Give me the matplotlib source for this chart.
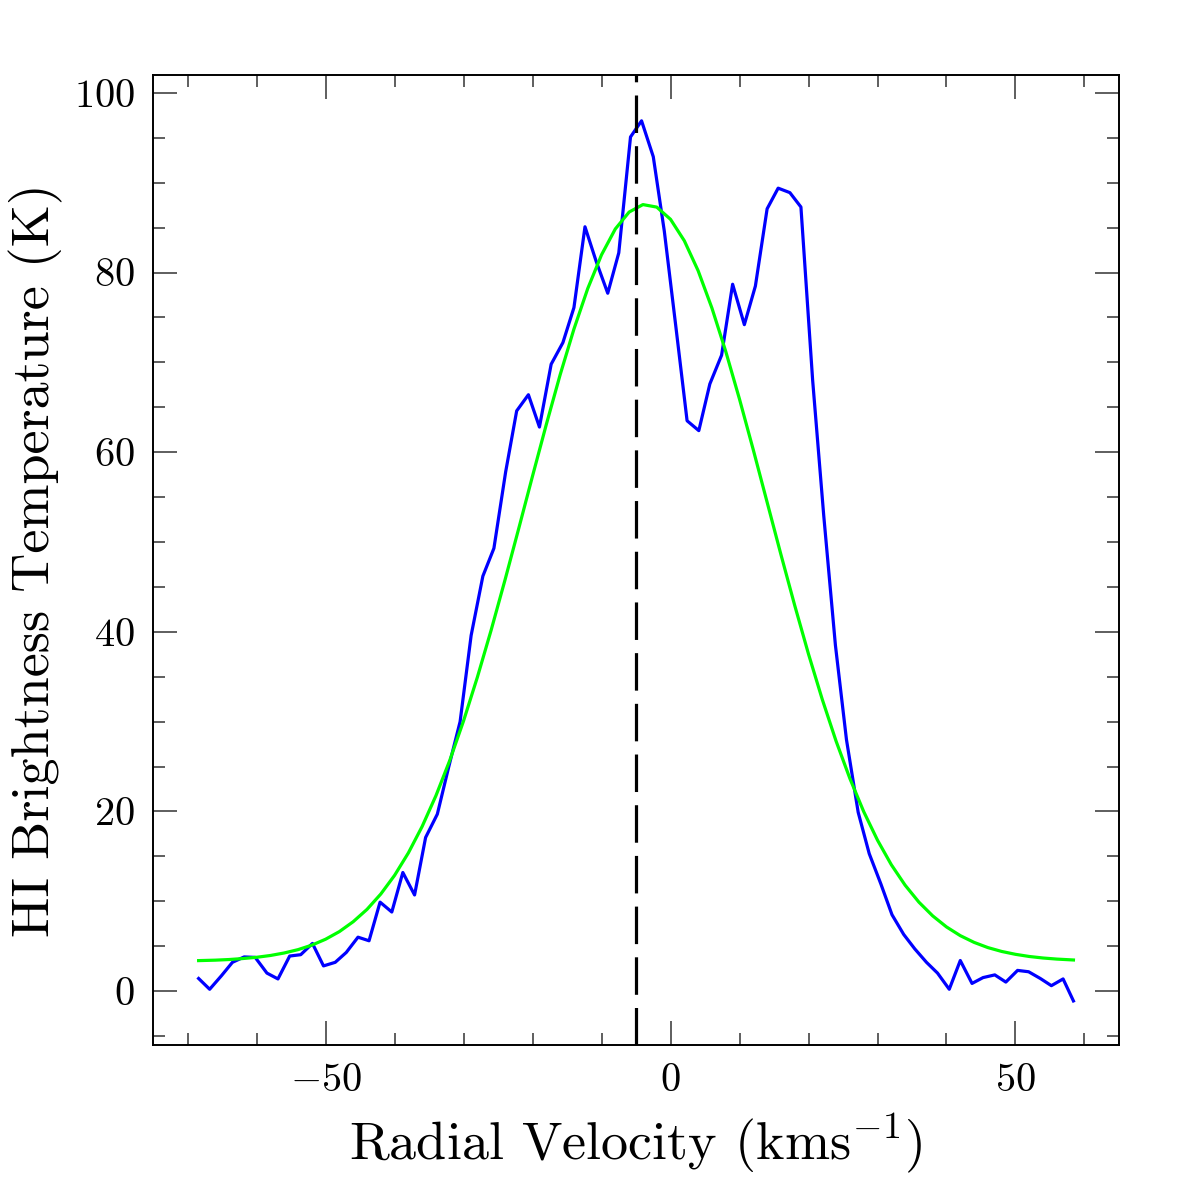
import numpy as np
import matplotlib
matplotlib.use("Agg")
import matplotlib.pyplot as plt
from matplotlib.ticker import MultipleLocator

# HI spectrum (channel velocity in km/s, brightness temperature in K)
velocity = [-68.4, -66.8, -65.1, -63.5, -61.8, -60.2, -58.5, -56.9, -55.2, -53.6,
            -51.9, -50.3, -48.6, -47.0, -45.3, -43.7, -42.1, -40.4, -38.8, -37.1,
            -35.5, -33.8, -32.2, -30.5, -28.9, -27.2, -25.6, -23.9, -22.3, -20.6,
            -19.0, -17.3, -15.6, -14.0, -12.4, -10.8, -9.1, -7.5, -5.8, -4.2,
            -2.5, -0.9, 0.8, 2.4, 4.1, 5.7, 7.4, 9.0, 10.7, 12.3,
            14.0, 15.6, 17.3, 18.9, 20.6, 22.2, 23.9, 25.5, 27.2, 28.8,
            30.5, 32.1, 33.8, 35.4, 37.1, 38.7, 40.4, 42.0, 43.7, 45.3,
            47.0, 48.6, 50.3, 51.9, 53.6, 55.2, 56.9, 58.4]
temperature = [1.4, 0.2, 1.7, 3.2, 3.8, 3.75, 2.0, 1.35, 3.9, 4.05,
               5.3, 2.8, 3.2, 4.3, 6.0, 5.6, 9.9, 8.8, 13.2, 10.7,
               17.1, 19.7, 24.8, 30.0, 39.6, 46.2, 49.3, 57.8, 64.6, 66.4,
               62.8, 69.8, 72.2, 76.1, 85.1, 81.3, 77.7, 82.2, 95.1, 96.9,
               92.9, 84.6, 73.8, 63.5, 62.4, 67.6, 70.8, 78.7, 74.2, 78.5,
               87.1, 89.4, 88.9, 87.3, 68.0, 53.0, 38.5, 28.0, 19.9, 15.3,
               11.9, 8.5, 6.3, 4.7, 3.2, 2.0, 0.2, 3.4, 0.85, 1.5,
               1.8, 1.0, 2.3, 2.15, 1.4, 0.6, 1.35, -1.1]

# gaussian fit curve
fit_velocity = [-68.4, -66, -64, -62, -60, -58, -56, -54, -52, -50,
                -48, -46, -44, -42, -40, -38, -36, -34, -32, -30,
                -28, -26, -24, -22, -20, -18, -16, -14, -12, -10,
                -8, -6, -4, -2, 0, 2, 4, 6, 8, 10,
                12, 14, 16, 18, 20, 22, 24, 26, 28, 30,
                32, 34, 36, 38, 40, 42, 44, 46, 48, 50,
                52, 54, 56, 58.4]
fit_temperature = [3.39, 3.44, 3.51, 3.62, 3.76, 3.96, 4.24, 4.61, 5.11, 5.77,
                   6.62, 7.72, 9.09, 10.80, 12.88, 15.38, 18.33, 21.76, 25.68, 30.08,
                   34.94, 40.19, 45.75, 51.51, 57.35, 63.10, 68.62, 73.71, 78.22, 81.98,
                   84.86, 86.74, 87.57, 87.29, 85.93, 83.54, 80.21, 76.05, 71.23, 65.90,
                   60.25, 54.43, 48.61, 42.94, 37.52, 32.46, 27.82, 23.66, 19.98, 16.80,
                   14.07, 11.79, 9.90, 8.37, 7.14, 6.17, 5.42, 4.84, 4.41, 4.09,
                   3.85, 3.68, 3.56, 3.46]

v_marker = -5.0

plt.rcParams['font.family'] = ['cmr10', 'DejaVu Serif']
plt.rcParams['mathtext.fontset'] = 'cm'
plt.rcParams['axes.formatter.use_mathtext'] = True
plt.rcParams['lines.scale_dashes'] = False

fig = plt.figure(figsize=(11.96, 11.96), dpi=100)
ax = fig.add_axes([0.128, 0.1263, 0.8076, 0.811])

ax.plot(velocity, temperature, color='#0000ff', linewidth=2.3)
ax.plot(fit_velocity, fit_temperature, color='#00ff00', linewidth=2.3)
ax.axvline(v_marker, color='black', linewidth=2.3, dashes=(27, 9.5))

ax.set_xlim(-75, 65)
ax.set_ylim(-6, 102)

ax.xaxis.set_major_locator(MultipleLocator(50))
ax.xaxis.set_minor_locator(MultipleLocator(10))
ax.yaxis.set_major_locator(MultipleLocator(20))
ax.yaxis.set_minor_locator(MultipleLocator(5))
ax.tick_params(which='both', direction='in', top=True, right=True,
               width=1.1, color='#333333')
ax.tick_params(which='major', length=17, labelsize=29, pad=13)
ax.tick_params(which='minor', length=8.6)
for s in ax.spines.values():
    s.set_linewidth(1.4)

ax.set_xlabel(r'Radial Velocity (kms$^{-1}$)', fontsize=39, labelpad=9)
ax.set_ylabel('HI Brightness Temperature (K)', fontsize=39, labelpad=8)

fig.savefig('out.png', dpi=100)
